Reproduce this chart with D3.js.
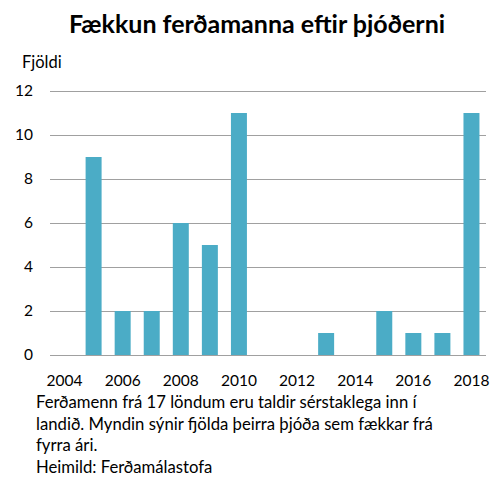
<!DOCTYPE html>
<html>
<head>
<meta charset="utf-8">
<script src="https://cdn.jsdelivr.net/npm/d3@7"></script>
<style>
  body { margin: 0; background: #fff; }
  svg { font-family: Lato, "Open Sans", sans-serif; }
</style>
</head>
<body>
<div id="chart"></div>
<script>
const width = 503;
const height = 477;

const years = [2004, 2005, 2006, 2007, 2008, 2009, 2010, 2011, 2012, 2013, 2014, 2015, 2016, 2017, 2018];
const counts = [0, 9, 2, 2, 6, 5, 11, 0, 0, 1, 0, 2, 1, 1, 11];
const yTicks = [0, 2, 4, 6, 8, 10, 12];
const xTickLabels = [2004, 2006, 2008, 2010, 2012, 2014, 2016, 2018];
const captionLines = [
  "Ferðamenn frá 17 löndum eru taldir sérstaklega inn í",
  "landið. Myndin sýnir fjölda þeirra þjóða sem fækkar frá",
  "fyrra ári.",
  "Heimild: Ferðamálastofa"
];

const margin = { left: 50, right: 17, top: 91, bottom: 122 };

const svg = d3.select("#chart").append("svg").attr("width", width).attr("height", height);

const x = d3
  .scaleBand()
  .domain(years)
  .range([margin.left, width - margin.right])
  .paddingInner(0.45)
  .paddingOuter(0.225);

const y = d3
  .scaleLinear()
  .domain([0, 12])
  .range([height - margin.bottom, margin.top]);

// gridlines
svg
  .append("g")
  .selectAll("line")
  .data(yTicks)
  .enter()
  .append("line")
  .attr("x1", margin.left)
  .attr("x2", width - margin.right)
  .attr("y1", (d) => y(d) + 0.5)
  .attr("y2", (d) => y(d) + 0.5)
  .attr("stroke", "#a0a0a0")
  .attr("stroke-width", 1);

// y tick labels
svg
  .append("g")
  .selectAll("text")
  .data(yTicks)
  .enter()
  .append("text")
  .attr("x", 33)
  .attr("y", (d) => y(d))
  .attr("dy", "0.35em")
  .attr("text-anchor", "end")
  .attr("font-size", 15.5)
  .attr("fill", "#000")
  .text((d) => d);

// bars
svg
  .append("g")
  .selectAll("rect")
  .data(years.map((yr, i) => ({ year: yr, value: counts[i] })))
  .enter()
  .append("rect")
  .attr("x", (d) => x(d.year))
  .attr("width", x.bandwidth())
  .attr("y", (d) => y(d.value))
  .attr("height", (d) => y(0) - y(d.value))
  .attr("fill", "#4bacc6");

// x tick labels
svg
  .append("g")
  .selectAll("text")
  .data(xTickLabels)
  .enter()
  .append("text")
  .attr("x", (d) => x(d) + x.bandwidth() / 2)
  .attr("y", 386)
  .attr("text-anchor", "middle")
  .attr("font-size", 15.5)
  .attr("fill", "#000")
  .text((d) => d);

// title
svg
  .append("text")
  .attr("x", 257)
  .attr("y", 33)
  .attr("text-anchor", "middle")
  .attr("font-size", 25)
  .attr("font-weight", "bold")
  .attr("fill", "#000")
  .text("Fækkun ferðamanna eftir þjóðerni");

// y axis title
svg
  .append("text")
  .attr("x", 22)
  .attr("y", 68)
  .attr("font-size", 16.5)
  .attr("fill", "#000")
  .text("Fjöldi");

// caption
svg
  .append("g")
  .selectAll("text")
  .data(captionLines)
  .enter()
  .append("text")
  .attr("x", 36)
  .attr("y", (d, i) => 408 + i * 21.5)
  .attr("font-size", 16.7)
  .attr("fill", "#000")
  .text((d) => d);
</script>
</body>
</html>
